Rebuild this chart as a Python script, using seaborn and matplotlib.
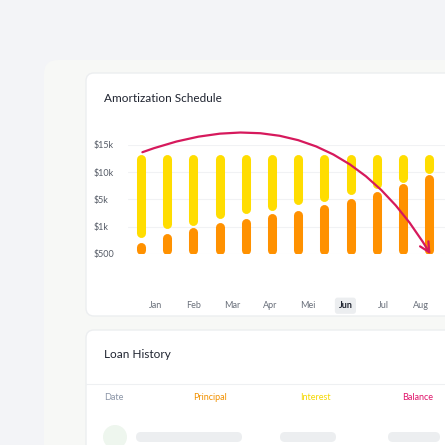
import numpy as np
import seaborn as sns
import matplotlib.pyplot as plt
from matplotlib.patches import FancyBboxPatch

# Data (in tick-level units: 0=$500, 1=$1k, 2=$5k, 3=$10k, 4=$15k)
principal_top = [0.44, 0.77, 0.99, 1.17, 1.32, 1.50, 1.58, 1.80, 2.02, 2.28, 2.57, 2.90]
interest_bottom = [0.62, 0.92, 1.06, 1.32, 1.50, 1.61, 1.80, 1.94, 2.20, 2.42, 2.64, 2.97]
interest_top = 3.47
y_labels = ["$500", "$1k", "$5k", "$10k", "$15k"]
months = ["Jan", "Feb", "Mar", "Apr", "Mei", "Jun", "Jul", "Aug"]
headers = ["Date", "Principal", "Interest", "Balance"]
header_colors = ["#8a94a6", "#f29100", "#f5d800", "#e0156b"]

sns.set_style("white")
plt.rcParams['font.family'] = ['Lato', 'DejaVu Sans']

W = H = 445
fig = plt.figure(figsize=(4.45, 4.45), dpi=100)
fig.patch.set_facecolor("#f3f4f7")

def px_box(x0, y0, x1, y1, color, r=8, z=0, ec="none"):
    fig.patches.append(FancyBboxPatch((x0 / W, 1 - y1 / H), (x1 - x0) / W, (y1 - y0) / H,
                                      boxstyle=f"round,pad=0,rounding_size={r / W}",
                                      transform=fig.transFigure, fc=color, ec=ec, zorder=z))

def px_text(x, y, s, **kw):
    fig.text(x / W, 1 - y / H, s, **kw)

# background panels
px_box(44, 60, 470, 470, "#f7f8f6", r=14)
px_box(86, 73, 470, 316, "white", r=8, ec="#eceef0")
px_box(86, 330, 470, 470, "white", r=8, ec="#eceef0")

px_text(104, 99, "Amortization Schedule", fontsize=8.5, color="#1f2430", va="center")
px_text(104, 354, "Loan History", fontsize=8.5, color="#1f2430", va="center")
fig.lines.append(plt.Line2D([86 / W, 1], [1 - 384 / H] * 2, color="#eef0f2", lw=0.8, transform=fig.transFigure))
for x, s, c in zip([104, 193, 300, 402], headers, header_colors):
    px_text(x, 397, s, fontsize=6.5, color=c, va="center")
# placeholder row
fig.patches.append(plt.Circle((115 / W, 1 - 437 / H), 12 / W, transform=fig.transFigure, fc="#eef6ee", ec="none"))
for x0, x1 in [(136, 242), (280, 336), (388, 440)]:
    px_box(x0, 432, x1, 442, "#eceef0", r=5)

# chart axes (pixel coords: x 128..445, y 145..254)
ax = fig.add_axes([128 / W, 1 - 254 / H, (445 - 128) / W, (254 - 145) / H])
ax.set_zorder(10)
ax.set_facecolor("none")
x = np.arange(len(principal_top))
ax.set_xlim(-0.5, 11.6)
ax.set_ylim(0, 4)
for v in range(5):
    ax.axhline(v, color="#f1f2f4", lw=0.8, zorder=0)
cap = 0.165
ax.vlines(x, cap, np.array(principal_top) - cap, color="#ff9100", lw=6.5, capstyle="round", zorder=2)
ax.vlines(x, np.array(interest_bottom) + cap, interest_top, color="#ffdd00", lw=6.5, capstyle="round", zorder=2)
ax.set_yticks(range(5))
ax.set_yticklabels(y_labels, fontsize=6.5, color="#555b66")
for lab in ax.get_yticklabels():
    lab.set_horizontalalignment("left")
ax.tick_params(axis="y", length=0, pad=25)
mx = np.linspace(0.57, 10.69, len(months))
ax.set_xticks(mx)
ax.set_xticklabels(months, fontsize=6.5, color="#6a707b")
ax.tick_params(axis="x", length=0, pad=34)
for lab in ax.get_xticklabels():
    if lab.get_text() == "Jun":
        lab.set_fontweight("bold")
        lab.set_color("#1f2430")
        lab.set_bbox(dict(boxstyle="round,pad=0.4,rounding_size=0.3", fc="#eceef0", ec="none"))
sns.despine(ax=ax, left=True, bottom=True)

ax.annotate("", xy=(11.1, -0.1), xytext=(-0.05, 3.7),
            arrowprops=dict(arrowstyle="->,head_length=0.7,head_width=0.35", color="#d6195c", lw=1.6,
                            connectionstyle="arc3,rad=-0.42"), annotation_clip=False, zorder=5)

fig.savefig("out.png", dpi=100, facecolor=fig.get_facecolor())
